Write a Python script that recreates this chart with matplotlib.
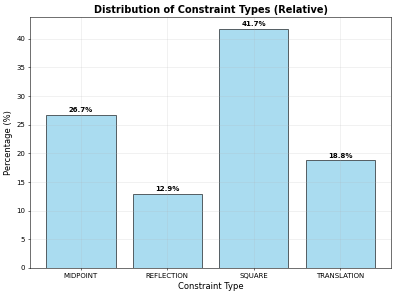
import matplotlib
matplotlib.use("Agg")
import matplotlib.pyplot as plt

categories = ["MIDPOINT", "REFLECTION", "SQUARE", "TRANSLATION"]
values = [26.7, 12.9, 41.7, 18.8]

fig = plt.figure(figsize=(7.92, 5.92), dpi=50)
ax = fig.add_axes([30/396, 28/296, 361/396, 251/296])
bars = ax.bar(categories, values, color="skyblue", alpha=0.7, edgecolor="black", linewidth=1.2)
for b, v in zip(bars, values):
    ax.text(b.get_x() + b.get_width()/2, b.get_height() + 0.3, f"{v:.1f}%",
            ha="center", va="bottom", fontsize=10, fontweight="bold")
ax.set_ylim(0, max(values) * 1.05)
ax.set_title("Distribution of Constraint Types (Relative)", fontsize=14, fontweight="bold")
ax.set_xlabel("Constraint Type", fontsize=12)
ax.set_ylabel("Percentage (%)", fontsize=12)
ax.tick_params(labelsize=10)
ax.grid(True, alpha=0.3)
fig.savefig("out.png", dpi=50)
